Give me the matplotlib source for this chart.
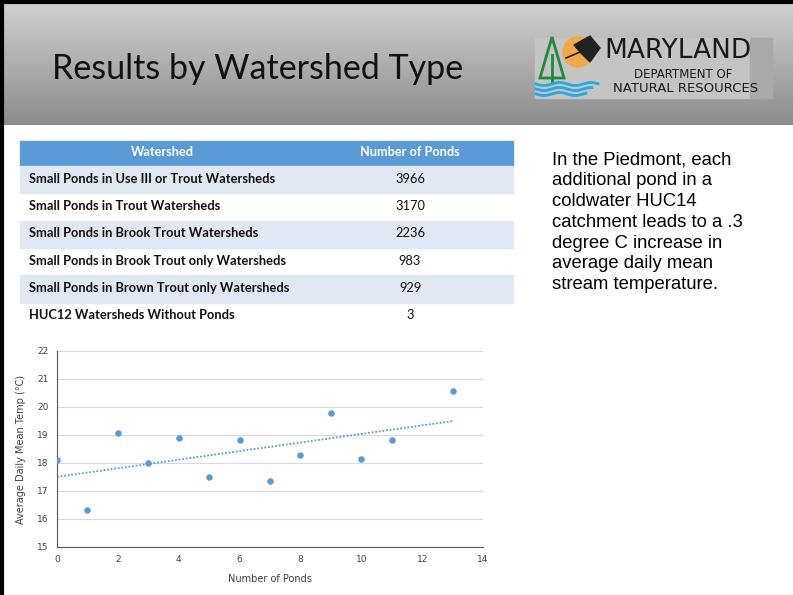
import numpy as np
import matplotlib.pyplot as plt
from matplotlib.patches import Rectangle, Circle, Polygon

# table data
watersheds = ['Small Ponds in Use III or Trout Watersheds',
              'Small Ponds in Trout Watersheds',
              'Small Ponds in Brook Trout Watersheds',
              'Small Ponds in Brook Trout only Watersheds',
              'Small Ponds in Brown Trout only Watersheds',
              'HUC12 Watersheds Without Ponds']
pond_counts = [3966, 3170, 2236, 983, 929, 3]

# scatter data
n_ponds = [0, 1, 2, 3, 4, 5, 6, 7, 8, 9, 10, 11, 13]
mean_temp = [18.10, 16.31, 19.07, 17.99, 18.90, 17.50, 18.83, 17.36, 18.30,
             19.77, 18.14, 18.82, 20.58]

note_lines = ['In the Piedmont, each', 'additional pond in a', 'coldwater HUC14',
              'catchment leads to a .3', 'degree C increase in',
              'average daily mean', 'stream temperature.']

W, H = 793, 595
BLUE = '#5b9bd5'

fig = plt.figure(figsize=(W / 100, H / 100), dpi=100)
bg = fig.add_axes([0, 0, 1, 1])
bg.set_xlim(0, W)
bg.set_ylim(H, 0)
bg.axis('off')

# header gradient
grad = np.linspace(0, 1, 200).reshape(-1, 1)
bg.imshow(grad, cmap=plt.matplotlib.colors.LinearSegmentedColormap.from_list(
    'hdr', ['#d2d2d2', '#8c8c8c']), extent=[0, W, 125, 0], aspect='auto', zorder=0)
bg.plot([0, W], [1.5, 1.5], color='black', lw=3, zorder=5)
bg.plot([1.5, 1.5], [0, H], color='black', lw=3, zorder=5)

bg.text(52, 69, 'Results by Watershed Type', fontsize=24.5, family='Lato',
        va='center', ha='left', color='#111111')

# logo (rough)
bg.add_patch(Rectangle((535, 38), 218, 60, color='#c4c4c4', zorder=1))
bg.add_patch(Rectangle((750, 38), 22, 60, color='#a9a9a9', zorder=1))
bg.add_patch(Circle((578, 52), 15, color='#f2a94a', zorder=2))
bg.add_patch(Polygon([[552, 37], [540, 78], [564, 78]], closed=True,
                     fill=False, edgecolor='#1f8a3a', lw=2, zorder=3))
bg.plot([552, 552], [55, 82], color='#1f8a3a', lw=2, zorder=3)
for k, yy in enumerate([84, 89, 94]):
    xs = np.linspace(536, 598 - k * 6, 30)
    bg.plot(xs, yy + 1.5 * np.sin((xs - 536) / 5), color='#29a8e0', lw=2, zorder=3)
bg.add_patch(Polygon([[574, 45], [590, 36], [600, 48], [590, 62], [580, 52]],
                     closed=True, color='#222222', zorder=4))
bg.plot([580, 566], [52, 58], color='#222222', lw=1.2, zorder=4)
bg.text(604, 51, 'MARYLAND', fontsize=19, family='DejaVu Sans', va='center',
        ha='left', color='#1a1a1a', zorder=4)
bg.text(683, 75, 'DEPARTMENT OF', fontsize=8.5, family='DejaVu Sans', va='center',
        ha='center', color='#1a1a1a', zorder=4)
bg.text(686, 88, 'NATURAL RESOURCES', fontsize=9.5, family='DejaVu Sans',
        va='center', ha='center', color='#1a1a1a', zorder=4)

# table
tx0, tx1, col2 = 20, 513, 410
bg.add_patch(Rectangle((tx0, 141), tx1 - tx0, 25, color=BLUE, zorder=1))
bg.text(162, 152, 'Watershed', fontsize=9.2, family='Lato', weight='bold',
        color='white', ha='center', va='center')
bg.text(col2, 152, 'Number of Ponds', fontsize=9.2, family='Lato', weight='bold',
        color='white', ha='center', va='center')
row_h = 27.3
for i, (name, cnt) in enumerate(zip(watersheds, pond_counts)):
    top = 166 + i * row_h
    if i % 2 == 0:
        bg.add_patch(Rectangle((tx0, top), tx1 - tx0, row_h, color='#dfe8f3', zorder=1))
    yc = top + row_h / 2 - 1
    bg.text(29, yc, name, fontsize=9.3, family='Lato', weight='bold',
            color='#111111', ha='left', va='center')
    bg.text(col2, yc, str(cnt), fontsize=9.3, family='Lato',
            color='#111111', ha='center', va='center')

# note text
for i, line in enumerate(note_lines):
    bg.text(552, 160 + 20.8 * i, line, fontsize=13.3, family='Liberation Sans',
            color='black', ha='left', va='center')

# scatter chart
ax = fig.add_axes([57 / W, 1 - 547 / H, (483 - 57) / W, (547 - 351) / H])
ax.scatter(n_ponds, mean_temp, s=22, color=BLUE, zorder=3, linewidths=0)
slope, icpt = np.polyfit(n_ponds, mean_temp, 1)
xt = np.array([0, max(n_ponds)])
ax.plot(xt, slope * xt + icpt, linestyle=(0, (1, 1)), color=BLUE, lw=1.3, zorder=2)
ax.set_xlim(0, 14)
ax.set_ylim(15, 22)
ax.set_xticks(range(0, 15, 2))
ax.set_yticks(range(15, 23))
ax.grid(axis='y', color='#d9d9d9', lw=0.8)
ax.set_axisbelow(True)
for s in ['top', 'right']:
    ax.spines[s].set_visible(False)
for s in ['left', 'bottom']:
    ax.spines[s].set_color('#595959')
    ax.spines[s].set_linewidth(0.8)
ax.tick_params(length=0, labelsize=6.5, labelcolor='#404040', pad=6)
ax.set_xlabel('Number of Ponds', fontsize=7, color='#404040', labelpad=7)
ax.set_ylabel('Average Daily Mean Temp (°C)', fontsize=7, color='#404040', labelpad=8)

fig.savefig('out.png', dpi=100)
